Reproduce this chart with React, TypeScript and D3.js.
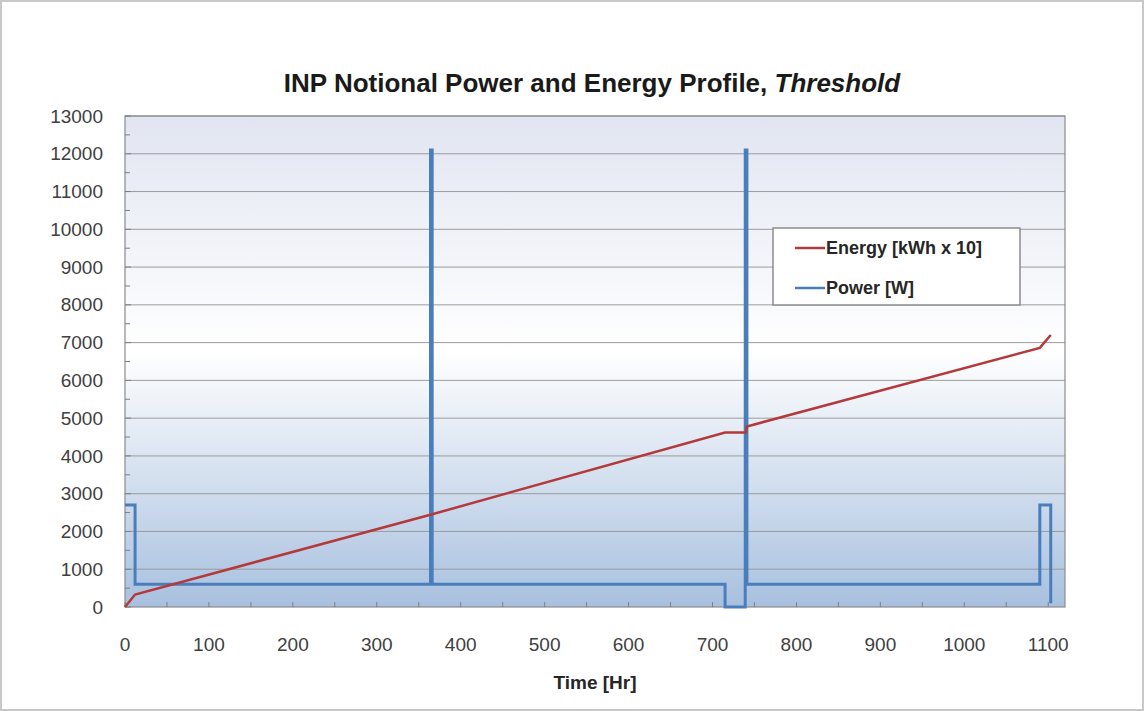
import React, { useEffect, useRef } from "react";
import * as d3 from "d3";

const title = "INP Notional Power and Energy Profile, ";
const titleItalic = "Threshold";
const xLabel = "Time [Hr]";
const xTicks = [0, 100, 200, 300, 400, 500, 600, 700, 800, 900, 1000, 1100];
const yTicks = [0, 1000, 2000, 3000, 4000, 5000, 6000, 7000, 8000, 9000, 10000, 11000, 12000, 13000];
const seriesNames = ["Energy [kWh x 10]", "Power [W]"];

const energyHours = [0, 12, 365, 715, 740, 741, 1090, 1103];
const energyValues = [0, 330, 2450, 4620, 4620, 4780, 6860, 7200];

const powerHours = [0, 12, 12, 364, 364, 366, 366, 715, 715, 739, 739, 741, 741, 1090, 1090, 1103, 1103];
const powerValues = [2700, 2700, 600, 600, 12100, 12100, 600, 600, 0, 0, 12100, 12100, 600, 600, 2700, 2700, 100];

const W = 1144;
const H = 711;
const M = { left: 125, right: 1065, top: 116, bottom: 607 };

export default function App() {
  const ref = useRef<SVGSVGElement>(null);
  useEffect(() => {
    const svg = d3.select(ref.current);
    svg.selectAll("*").remove();
    const font = "'Liberation Sans', Arial, sans-serif";

    const x = d3.scaleLinear().domain([0, 1120]).range([M.left, M.right]);
    const y = d3.scaleLinear().domain([0, 13000]).range([M.bottom, M.top]);

    svg.append("rect").attr("x", 0).attr("y", 0).attr("width", W).attr("height", H).attr("fill", "#ffffff");
    svg.append("rect").attr("x", 1).attr("y", 1).attr("width", W - 2).attr("height", H - 2)
      .attr("fill", "none").attr("stroke", "#c8c8c8").attr("stroke-width", 2);

    const defs = svg.append("defs");
    const grad = defs.append("linearGradient").attr("id", "bg").attr("x1", 0).attr("y1", 0).attr("x2", 0).attr("y2", 1);
    grad.append("stop").attr("offset", "0%").attr("stop-color", "#e1e5f1");
    grad.append("stop").attr("offset", "48%").attr("stop-color", "#ffffff");
    grad.append("stop").attr("offset", "100%").attr("stop-color", "#a8c0df");

    svg.append("rect").attr("x", M.left).attr("y", M.top)
      .attr("width", M.right - M.left).attr("height", M.bottom - M.top)
      .attr("fill", "url(#bg)");

    // gridlines
    svg.append("g").selectAll("line").data(yTicks.filter(d => d > 0)).join("line")
      .attr("x1", M.left).attr("x2", M.right)
      .attr("y1", d => y(d)).attr("y2", d => y(d))
      .attr("stroke", "#9c9c9c").attr("stroke-width", 1);

    // plot border
    svg.append("rect").attr("x", M.left).attr("y", M.top)
      .attr("width", M.right - M.left).attr("height", M.bottom - M.top)
      .attr("fill", "none").attr("stroke", "#8c8c8c").attr("stroke-width", 1.2);

    // minor ticks
    const yMinor = d3.range(0, 13001, 500);
    svg.append("g").selectAll("line").data(yMinor).join("line")
      .attr("x1", M.left).attr("x2", d => M.left + (d % 1000 === 0 ? 6 : 5))
      .attr("y1", d => y(d)).attr("y2", d => y(d))
      .attr("stroke", "#7f7f7f").attr("stroke-width", 1);
    const xMinor = d3.range(0, 1101, 50);
    svg.append("g").selectAll("line").data(xMinor).join("line")
      .attr("x1", d => x(d)).attr("x2", d => x(d))
      .attr("y1", M.bottom).attr("y2", M.bottom - 5)
      .attr("stroke", "#7f7f7f").attr("stroke-width", 1);

    // tick labels
    svg.append("g").selectAll("text").data(yTicks).join("text")
      .attr("x", 103).attr("y", d => y(d)).attr("dy", "0.35em")
      .attr("text-anchor", "end").attr("font-family", font).attr("font-size", 19)
      .attr("fill", "#404040").text(d => String(d));
    svg.append("g").selectAll("text").data(xTicks).join("text")
      .attr("x", d => x(d)).attr("y", 644).attr("dy", "0.35em")
      .attr("text-anchor", "middle").attr("font-family", font).attr("font-size", 19)
      .attr("fill", "#404040").text(d => String(d));

    // lines
    const energy = energyHours.map((h, i) => [h, energyValues[i]] as [number, number]);
    const power = powerHours.map((h, i) => [h, powerValues[i]] as [number, number]);
    const line = d3.line<[number, number]>().x(d => x(d[0])).y(d => y(d[1]));
    svg.append("path").attr("d", line(power)).attr("fill", "none")
      .attr("stroke", "#4a7ebb").attr("stroke-width", 3).attr("stroke-linejoin", "miter");
    svg.append("path").attr("d", line(energy)).attr("fill", "none")
      .attr("stroke", "#b3393b").attr("stroke-width", 2.5);

    // title
    const t = svg.append("text").attr("x", 592).attr("y", 92).attr("text-anchor", "middle")
      .attr("font-family", font).attr("font-size", 26).attr("font-weight", "bold").attr("fill", "#1a1a1a");
    t.append("tspan").text(title);
    t.append("tspan").attr("font-style", "italic").text(titleItalic);

    svg.append("text").attr("x", (M.left + M.right) / 2).attr("y", 682).attr("dy", "0.35em")
      .attr("text-anchor", "middle").attr("font-family", font).attr("font-size", 19)
      .attr("font-weight", "bold").attr("fill", "#262626").text(xLabel);

    // legend
    const lg = svg.append("g");
    lg.append("rect").attr("x", 773).attr("y", 228).attr("width", 247).attr("height", 77)
      .attr("fill", "#ffffff").attr("stroke", "#8c8c8c").attr("stroke-width", 1.5);
    const colors = ["#b3393b", "#4a7ebb"];
    seriesNames.forEach((n, i) => {
      const yy = 248 + i * 40;
      lg.append("line").attr("x1", 795).attr("x2", 825).attr("y1", yy).attr("y2", yy)
        .attr("stroke", colors[i]).attr("stroke-width", 2.5);
      lg.append("text").attr("x", 826).attr("y", yy).attr("dy", "0.35em")
        .attr("font-family", font).attr("font-size", 18).attr("font-weight", "bold")
        .attr("fill", "#262626").text(n);
    });
  }, []);
  return (
    <svg ref={ref} width={W} height={H} style={{ position: "absolute", left: 0, top: 0 }} />
  );
}
